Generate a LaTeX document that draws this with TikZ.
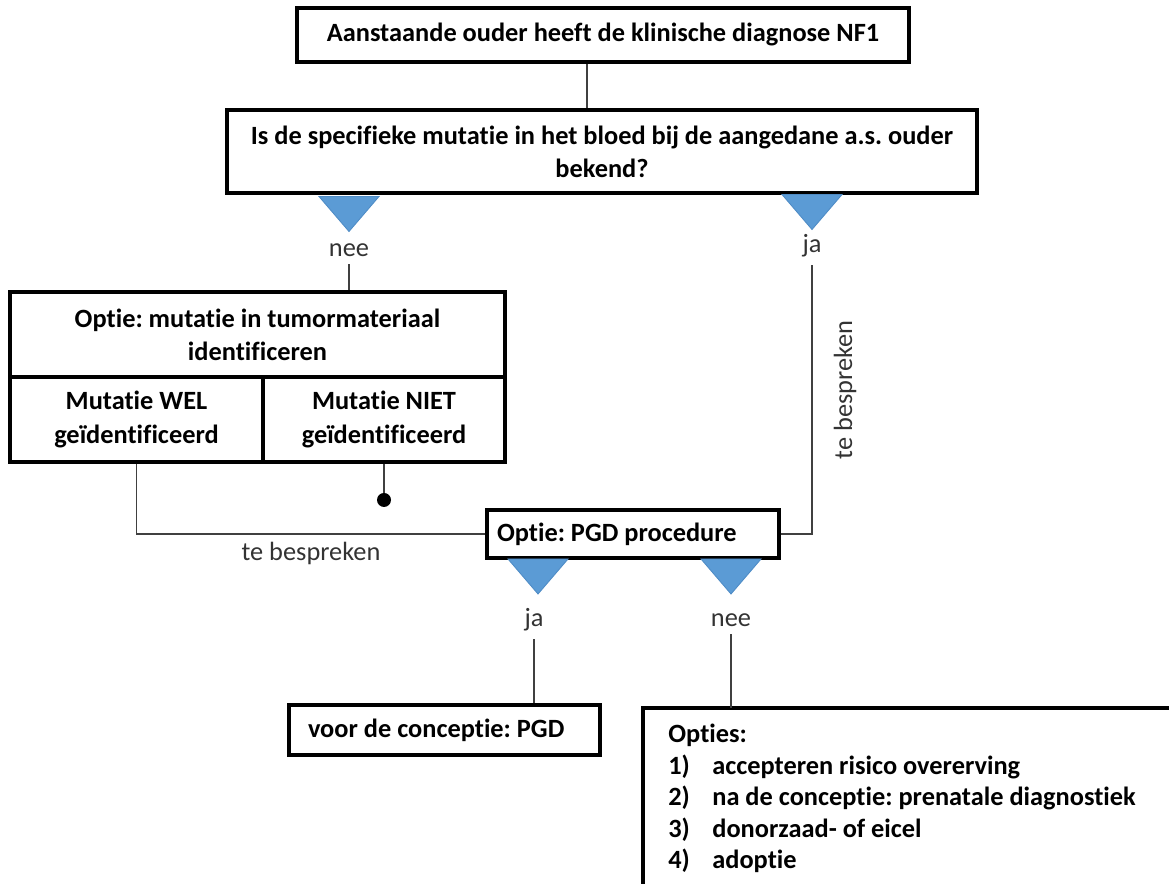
\documentclass[tikz,border=0pt]{standalone}
\usepackage{fontspec}
\setmainfont{Carlito}[Ligatures=NoCommon]
\usepackage{xcolor}
\definecolor{triBlue}{HTML}{5B9BD5}
\definecolor{triEdge}{HTML}{4F8CC6}
\frenchspacing

\begin{document}
\begin{tikzpicture}[auto,
        every node/.style={font=\fontsize{15}{18.8}\selectfont}]
        \tikzstyle{boxStyle} = [draw=black, line width=1.9pt, fill=white, align=center,
                                inner sep=0pt, font=\fontsize{15}{18.8}\selectfont\bfseries]
        \tikzstyle{labelStyle} = [text=black!80, inner sep=0.15cm]
        \tikzstyle{lineStyle} = [draw=black!75, line width=0.6pt]
        \tikzstyle{triStyle} = [fill=triBlue, draw=triEdge, line width=0.5pt]
        \useasboundingbox (0,0) rectangle (23.38,17.68);
        \clip (0,0) rectangle (23.38,17.68);
        % boxes
        \node[boxStyle, minimum width=12.24cm, minimum height=1.08cm] (1) at (12.06,16.98)
            {Aanstaande ouder heeft de klinische diagnose NF1};
        \node[boxStyle, minimum width=15cm, minimum height=1.66cm] (2) at (12.04,14.65)
            {Is de specifieke mutatie in het bloed bij de aangedane a.s. ouder\\bekend?};
        \node[boxStyle, minimum width=9.9cm, minimum height=1.7cm] (3) at (5.15,10.99)
            {Optie: mutatie in tumormateriaal\\identificeren};
        \node[boxStyle, minimum width=5.06cm, minimum height=1.7cm] (4) at (2.73,9.29)
            {Mutatie WEL\\geïdentificeerd};
        \node[boxStyle, minimum width=4.84cm, minimum height=1.7cm] (5) at (7.68,9.29)
            {Mutatie NIET\\geïdentificeerd};
        \node[boxStyle, minimum width=5.84cm, minimum height=0.96cm, text width=5.44cm,
              align=flush left] (6) at (12.66,7.00) {Optie: PGD procedure};
        \node[boxStyle, minimum width=6.22cm, minimum height=1.0cm, text width=5.46cm,
              align=flush left] (7) at (8.89,3.08) {voor de conceptie: PGD};
        \draw[line width=1.9pt] (12.86,3.52) rectangle (25,-2);
        \node[anchor=north west, align=flush left, inner xsep=0.5cm, inner ysep=0.32cm,
              font=\fontsize{15}{17.9}\selectfont\bfseries] (8) at (12.86,3.52)
            {Opties:\\
             \makebox[0.88cm][l]{1)}accepteren risico overerving\\
             \makebox[0.88cm][l]{2)}na de conceptie: prenatale diagnostiek\\
             \makebox[0.88cm][l]{3)}donorzaad- of eicel\\
             \makebox[0.88cm][l]{4)}adoptie};
        \node[circle, fill=black, inner sep=0pt, minimum size=0.28cm] (9) at (7.68,7.68) {};
        % triangles
        \foreach \x/\y in {6.98/13.75, 16.24/13.79, 10.76/6.50, 14.62/6.50}
            \filldraw[triStyle] (\x-0.6,\y) -- (\x+0.6,\y) -- (\x,\y-0.7) -- cycle;
        % labels
        \node[labelStyle] (10) at (6.98,12.68) {nee};
        \node[labelStyle] (11) at (16.24,12.76) {ja};
        \node[labelStyle] (12) at (10.68,5.28) {ja};
        \node[labelStyle] (13) at (14.62,5.28) {nee};
        \node[labelStyle, rotate=90] (14) at (16.9,9.88) {te bespreken};
        \node[labelStyle] (15) at (6.22,6.62) {te bespreken};
        % connectors
        \path[lineStyle] ([xshift=-0.32cm]1.south) -- ([xshift=-0.32cm]1.south |- 2.north);
        \path[lineStyle] (10.south) -- (10.south |- 3.north);
        \path[lineStyle] (11.south) |- (6.east);
        \path[lineStyle] (4.south) |- (6.west);
        \path[lineStyle] (5.south) -- (9);
        \path[lineStyle] (12.south) -- (12.south |- 7.north);
        \path[lineStyle] (13.south) -- (13.south |- 8.north);
\end{tikzpicture}
\end{document}
